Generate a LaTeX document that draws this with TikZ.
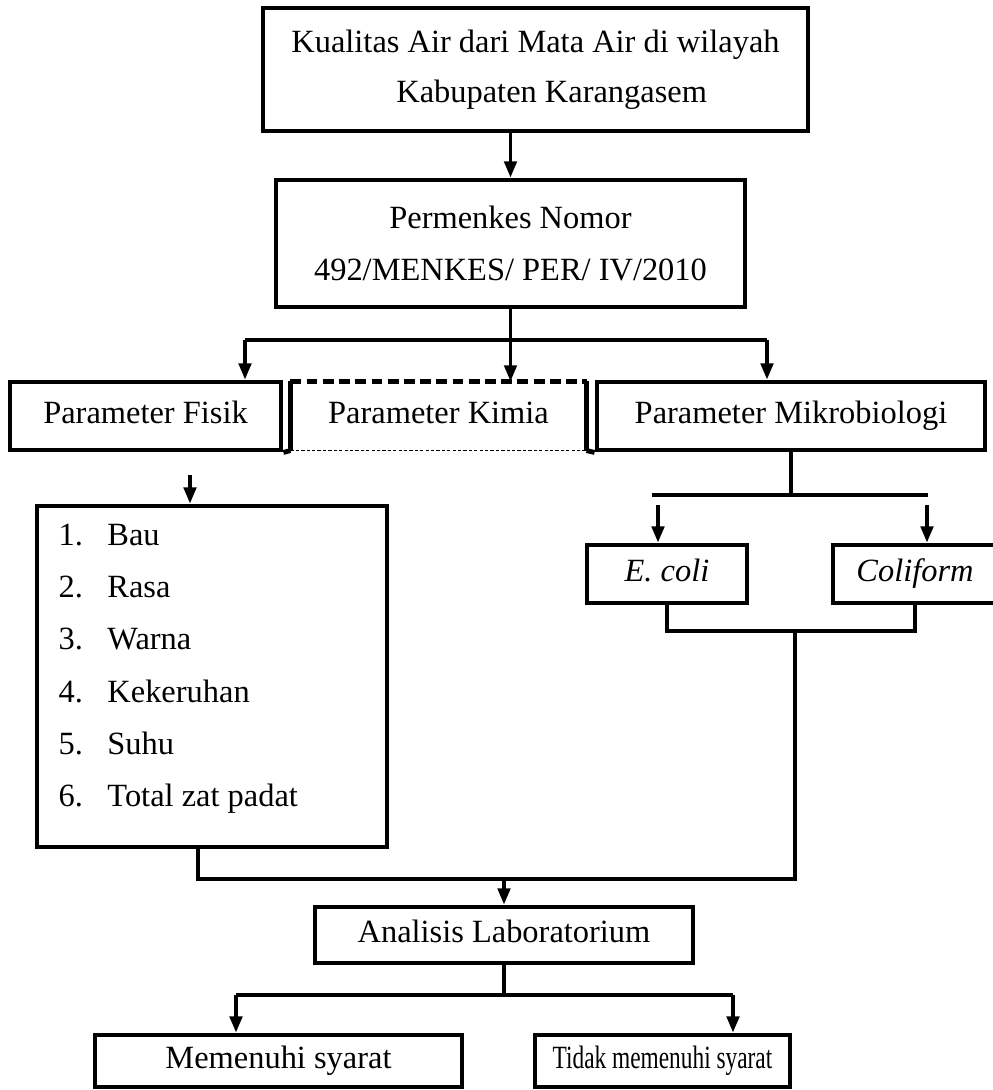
\documentclass[tikz,border=0pt]{standalone}
\usepackage{graphicx}
\usepackage{fontspec}
\setmainfont{Liberation Serif}
\usetikzlibrary{arrows.meta}
\newcommand{\px}[1]{#1*0.37pt}
\newcommand{\itm}[2]{\makebox[18.1pt][l]{#1}#2}

\begin{document}
\begin{tikzpicture}[x=0.37pt,y=-0.37pt,font=\fontsize{12}{14}\selectfont,
	box/.style={draw,line width=1.8pt,inner sep=0pt,align=center},
	oneline/.style={text height=8.4pt,text depth=2.6pt},
	conn/.style={line width=1.3pt},
	arr/.style={line width=1.3pt,-{Triangle[width=4.6pt,length=6pt]}}]
	\clip (0,0) rectangle (993,1090);
	\useasboundingbox (0,0) rectangle (993,1090);
	\fill[white] (0,0) rectangle (993,1090);
	
	\node[box,minimum width=\px{545},minimum height=\px{123},font=\fontsize{12}{18.5}\selectfont] at (535.5,69.5)(top){Kualitas Air dari Mata Air di wilayah\\\hspace*{12pt}Kabupaten Karangasem};
	\node[box,minimum width=\px{469},minimum height=\px{127},font=\fontsize{12}{19.5}\selectfont] at (510.5,243.5)(perm){Permenkes Nomor\\492/MENKES/ PER/ IV/2010};
	\draw[arr] (top.south -| perm.north)--(perm.north);
	
	\node[box,oneline,minimum width=\px{271},minimum height=\px{68}] at (145.5,416)(fisik){Parameter Fisik};
	\node[oneline,inner sep=0pt,minimum width=\px{295},minimum height=\px{68}] at (438.5,416)(kimia){Parameter Kimia};
	\node[box,oneline,minimum width=\px{388},minimum height=\px{68}] at (791,416)(mikro){Parameter Mikrobiologi};
	\draw[line width=1.8pt] (kimia.north west)--(kimia.south west)(kimia.north east)--(kimia.south east);
	\draw[line width=1.8pt,dash pattern=on 4pt off 2pt] (kimia.north west)--(kimia.north east);
	\draw[line width=0.5pt,dash pattern=on 1.2pt off 0.8pt] (kimia.south west)--(kimia.south east);
	\draw[line width=1.8pt] (fisik.south east)--(kimia.south west)(kimia.south east)--(mikro.south west);
	
	\coordinate (b1) at (245,340);
	\coordinate (b2) at (510.5,340);
	\coordinate (b3) at (767,340);
	\draw[conn] (perm.south)--(b2);
	\draw[conn] (b1)--(b3);
	\draw[arr] (b1)--(b1 |- fisik.north);
	\draw[arr] (b2)--(b2 |- kimia.north);
	\draw[arr] (b3)--(b3 |- mikro.north);
	
	% daftar parameter fisik
	\coordinate (f0) at (190,475);
	\node[box,minimum width=\px{350},minimum height=\px{341}] at (212,676.5)(list){};
	\draw[arr] (f0)--(f0 |- list.north);
	\node[anchor=base west,inner sep=0pt] at (58,545)(i1){\itm{1.}{Bau}};
	\node[anchor=base west,inner sep=0pt] at (58,597)(i2){\itm{2.}{Rasa}};
	\node[anchor=base west,inner sep=0pt] at (58,649)(i3){\itm{3.}{Warna}};
	\node[anchor=base west,inner sep=0pt] at (58,702)(i4){\itm{4.}{Kekeruhan}};
	\node[anchor=base west,inner sep=0pt] at (58,754)(i5){\itm{5.}{Suhu}};
	\node[anchor=base west,inner sep=0pt] at (58,806)(i6){\itm{6.}{Total zat padat}};
	
	% mikrobiologi
	\coordinate (m1) at (791,495);
	\coordinate (m2) at (652,495);
	\coordinate (m3) at (928,495);
	\draw[conn] (mikro.south -| m1)--(m1);
	\draw[conn] (m2)--(m3);
	\node[box,oneline,minimum width=\px{160},minimum height=\px{58}] at (667,574)(ecoli){\textit{E. coli}};
	\node[box,oneline,minimum width=\px{164},minimum height=\px{58}] at (915,574)(coli){\textit{Coliform}};
	\coordinate (e0) at (658,505);
	\coordinate (c0) at (927,505);
	\draw[arr] (e0)--(e0 |- ecoli.north);
	\draw[arr] (c0)--(c0 |- coli.north);
	
	\coordinate (j2) at (795,631);
	\coordinate (j4) at (198,879);
	\draw[conn] (ecoli.south)|-(j2)-|(coli.south);
	\draw[conn] (j2)|-(j4)--(j4 |- list.south);
	
	\node[box,oneline,minimum width=\px{378},minimum height=\px{56}] at (504,935)(anal){Analisis Laboratorium};
	\draw[arr] (anal.north |- j4)--(anal.north);
	
	\coordinate (k1) at (236,995);
	\coordinate (k2) at (504,995);
	\coordinate (k3) at (733,995);
	\draw[conn] (anal.south)--(k2);
	\draw[conn] (k1)--(k3);
	\node[box,oneline,minimum width=\px{367},minimum height=\px{52}] at (278.5,1061)(ok){Memenuhi syarat};
	\node[box,oneline,minimum width=\px{255},minimum height=\px{52}] at (662.5,1061)(notok){\scalebox{0.72}[1]{Tidak memenuhi syarat}};
	\draw[arr] (k1)--(k1 |- ok.north);
	\draw[arr] (k3)--(k3 |- notok.north);
\end{tikzpicture}
\end{document}
